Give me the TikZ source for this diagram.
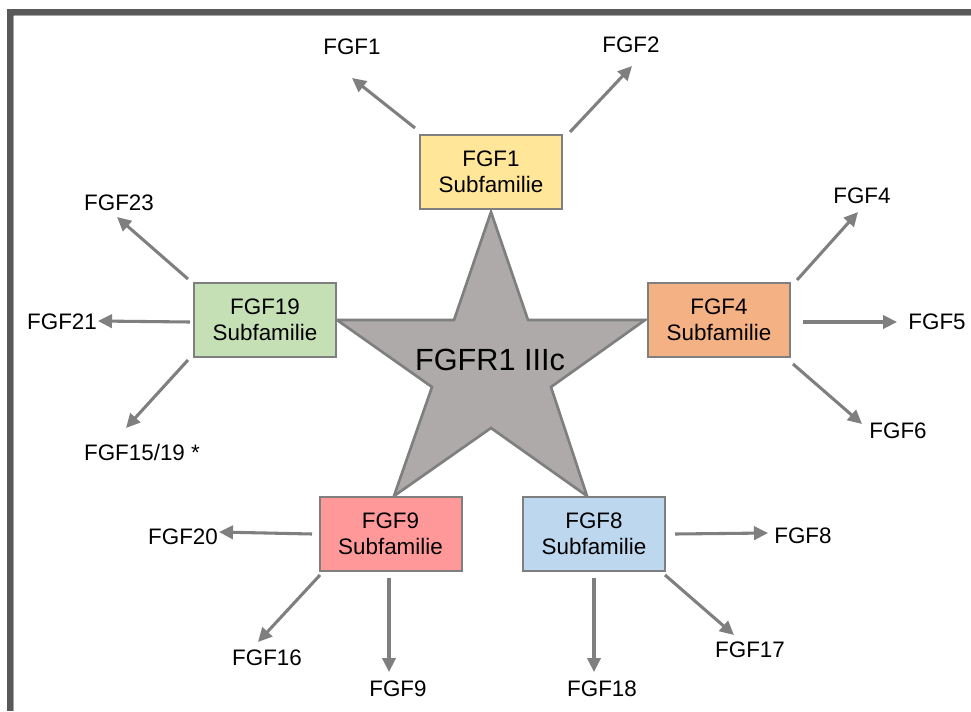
\documentclass[tikz,border=0pt]{standalone}
\usepackage{fontspec}
\setmainfont{Liberation Sans}
\usetikzlibrary{arrows.meta}
\definecolor{lg}{HTML}{7F7F7F}
\definecolor{frame}{HTML}{595959}
\definecolor{starfill}{HTML}{AEAAAA}
\definecolor{cyellow}{HTML}{FFE699}
\definecolor{cgreen}{HTML}{C5E0B4}
\definecolor{corange}{HTML}{F4B183}
\definecolor{cred}{HTML}{FF9999}
\definecolor{cblue}{HTML}{BDD7EE}
\begin{document}
\begin{tikzpicture}[x=0.75pt,y=-0.75pt,
  subbox/.style={draw=lg,line width=1.5pt,minimum width=106.5pt,minimum height=55.5pt,
    inner sep=0pt,align=center,font=\fontsize{16.8}{19.5}\selectfont},
  lab/.style={inner sep=0pt,text depth=0pt,font=\fontsize{16.8}{19.5}\selectfont},
  arr/.style={draw=lg,line width=2.3pt,-{Triangle[length=10.5pt,width=10pt]}}]
\useasboundingbox (0,0) rectangle (971,711);
\fill[white] (0,0) rectangle (971,711);
% frame
\fill[frame] (7,9) rectangle (971,15.5);
\fill[frame] (7,9) rectangle (13.5,711);
\draw[lg!70,line width=0.75pt] (13.5,15.5) -- (971,15.5);
\draw[lg!70,line width=0.75pt] (13.5,15.5) -- (13.5,711);
% star
\draw[lg,fill=starfill,line width=2pt,line join=miter]
  (491,212) -- (528,320) -- (645,320) -- (551,387) -- (587,496) -- (491,428)
  -- (394,496) -- (432,387) -- (337,320) -- (454,320) -- cycle;
\node[inner sep=0pt,text depth=0pt,font=\fontsize{23}{27}\selectfont] (r) at (490,360) {FGFR1 IIIc};
% boxes
\node[subbox,fill=cyellow] (b1) at (491,172) {FGF1\\Subfamilie};
\node[subbox,fill=cgreen] (b19) at (265,320) {FGF19\\Subfamilie};
\node[subbox,fill=corange] (b4) at (719,320) {FGF4\\Subfamilie};
\node[subbox,fill=cred] (b9) at (390.5,534) {FGF9\\Subfamilie};
\node[subbox,fill=cblue] (b8) at (594,534) {FGF8\\Subfamilie};
% labels
\node[lab] (l1) at (352,47) {FGF1};
\node[lab] (l2) at (631,45) {FGF2};
\node[lab] (l23) at (119,203) {FGF23};
\node[lab] (l21) at (62,322) {FGF21};
\node[lab] (l15) at (142,452) {FGF15/19 *};
\node[lab] (l4) at (862,196) {FGF4};
\node[lab] (l5) at (937,322) {FGF5};
\node[lab] (l6) at (898,431) {FGF6};
\node[lab] (l20) at (183,537) {FGF20};
\node[lab] (l16) at (267,658) {FGF16};
\node[lab] (l9) at (398,689) {FGF9};
\node[lab] (l8) at (803,536) {FGF8};
\node[lab] (l17) at (750,650) {FGF17};
\node[lab] (l18) at (602,689) {FGF18};
% arrows
\draw[arr] ([shift={(-76,-44)}]b1.center) -- ([shift={(0,31)}]l1.center);
\draw[arr] ([shift={(79,-40)}]b1.center) -- ([shift={(1,21)}]l2.center);
\draw[arr] ([shift={(-77,-41)}]b19.center) -- ([shift={(-2,14)}]l23.center);
\draw[arr] ([shift={(-75,2)}]b19.center) -- ([shift={(36,-1)}]l21.center);
\draw[arr] ([shift={(-77,40)}]b19.center) -- ([shift={(-16,-24)}]l15.center);
\draw[arr] ([shift={(78,-40)}]b4.center) -- ([shift={(-4,16)}]l4.center);
\draw[arr] ([shift={(84,2)}]b4.center) -- ([shift={(-40,0)}]l5.center);
\draw[arr] ([shift={(74,44)}]b4.center) -- ([shift={(-36,-7)}]l6.center);
\draw[arr] ([shift={(-78.5,0)}]b9.center) -- ([shift={(36,-5)}]l20.center);
\draw[arr] ([shift={(-70.5,41)}]b9.center) -- ([shift={(-9,-16)}]l16.center);
\draw[arr] ([shift={(-1.5,44)}]b9.center) -- ([shift={(-9,-17)}]l9.center);
\draw[arr] ([shift={(81,0)}]b8.center) -- ([shift={(-35,-3)}]l8.center);
\draw[arr] ([shift={(71,41)}]b8.center) -- ([shift={(-16,-15)}]l17.center);
\draw[arr] ([shift={(0,44)}]b8.center) -- ([shift={(-8,-17)}]l18.center);
\end{tikzpicture}
\end{document}
